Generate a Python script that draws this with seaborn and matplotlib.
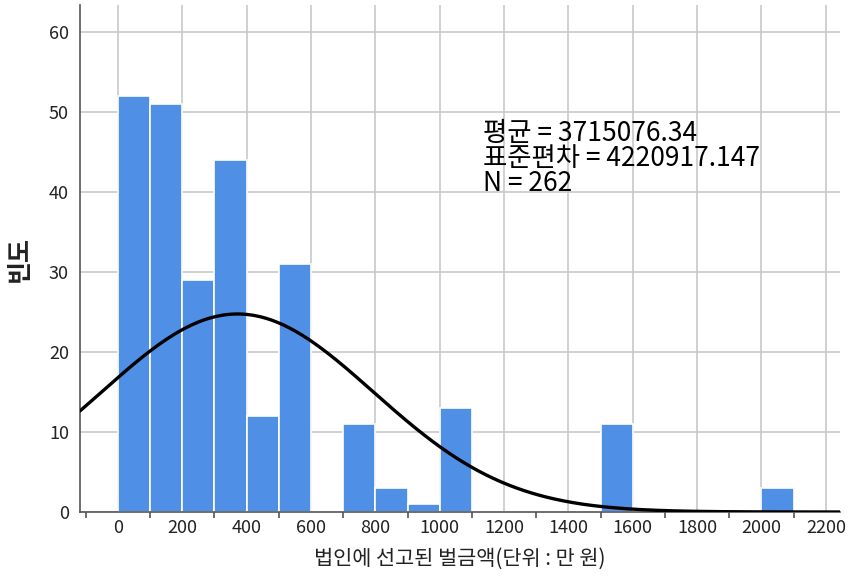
import numpy as np
import pandas as pd
import matplotlib
matplotlib.use("Agg")
import matplotlib.pyplot as plt
import seaborn as sns

# histogram bins (unit: 만 원), width 100
bin_left = [0, 100, 200, 300, 400, 500, 600, 700, 800, 900, 1000, 1100, 1200, 1300, 1400,
            1500, 1600, 1700, 1800, 1900, 2000]
counts = [52, 51, 29, 44, 12, 31, 0, 11, 3, 1, 13, 0, 0, 0, 0, 11, 0, 0, 0, 0, 3]

mean_won = 3715076.34
sd_won = 4220917.147
n_total = 262
bin_width = 100

sns.set_theme(style="whitegrid")
plt.rcParams["font.family"] = ["Noto Sans CJK KR", "DejaVu Sans"]

df = pd.DataFrame({"x": [b + bin_width / 2 for b in bin_left], "count": counts})

fig = plt.figure(figsize=(8.49, 5.76), dpi=100)
ax = fig.add_axes([80 / 849, 1 - 512 / 576, 760 / 849, 507 / 576])

sns.histplot(data=df, x="x", weights="count", binwidth=bin_width, binrange=(0, 2100),
             color="#4f8fe6", alpha=1, edgecolor="white", linewidth=1.2, ax=ax, zorder=2)

# fitted normal curve (mean/sd in 만 원)
mu = mean_won / 1e4
sd = sd_won / 1e4
xs = np.linspace(-118, 2244, 400)
ys = n_total * bin_width / (sd * np.sqrt(2 * np.pi)) * np.exp(-0.5 * ((xs - mu) / sd) ** 2)
sns.lineplot(x=xs, y=ys, color="black", linewidth=2.4, ax=ax, zorder=3)

ax.set_xlim(-118, 2244)
ax.set_ylim(0, 63.4)
ax.set_xticks(np.arange(0, 2201, 200))
ax.set_xticks(np.arange(-100, 2300, 200), minor=True)
ax.set_yticks(np.arange(0, 61, 10))
ax.grid(True, which="major", color="#c8c8c8", linewidth=1.2, zorder=0)
ax.grid(False, which="minor")
ax.set_axisbelow(True)
ax.set_facecolor("white")

for s in ["top", "right"]:
    ax.spines[s].set_visible(False)
for s in ["left", "bottom"]:
    ax.spines[s].set_visible(True)
    ax.spines[s].set_color("#555555")
    ax.spines[s].set_linewidth(1.2)

ax.tick_params(axis="x", which="major", length=0, labelsize=13, colors="#222222", pad=5)
ax.tick_params(axis="x", which="minor", length=4, width=1.2, color="#555555", direction="out",
               bottom=True)
ax.tick_params(axis="y", which="major", length=0, labelsize=13, colors="#222222", pad=8)

ax.set_xlabel("법인에 선고된 벌금액(단위 : 만 원)", fontsize=15, color="#222222", labelpad=8)
ax.set_ylabel("빈도", fontsize=18, color="#222222", labelpad=12, fontweight="bold")

ax.text(1134, 44.2, f"평균 = {mean_won:.2f}\n표준편차 = {sd_won:.3f}\nN = {n_total}",
        fontsize=19, color="black", va="center", ha="left", linespacing=0.92, zorder=4)

fig.savefig("out.png", dpi=100)
